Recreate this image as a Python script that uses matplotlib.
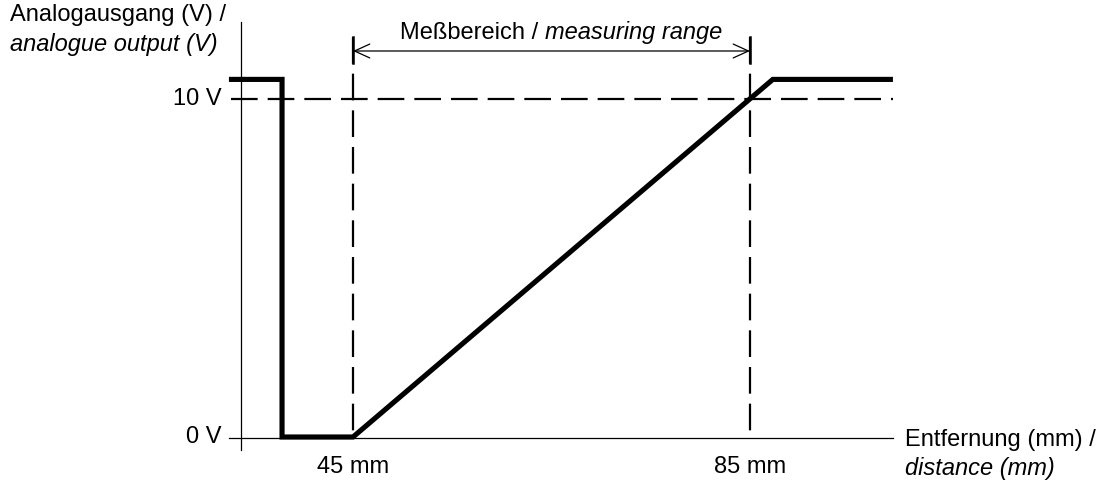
import matplotlib.pyplot as plt

plt.rcParams['font.family'] = ['Liberation Sans', 'DejaVu Sans']

# output curve (distance in mm, output in V)
dist_mm = [32.5, 37.85, 37.85, 45.0, 87.3, 99.4]
out_v = [10.58, 10.58, 0.0, 0.0, 10.58, 10.58]

range_start = 45
range_end = 85
full_scale = 10
tick_labels_x = ['45 mm', '85 mm']
tick_labels_y = ['0 V', '10 V']

W, H = 1103, 484
fig = plt.figure(figsize=(W / 100, H / 100), dpi=100)
ax = fig.add_axes([0, 0, 1, 1])
ax.axis('off')

# pixel <-> data mapping
px_mm = (750 - 353) / (range_end - range_start)
px_v = (437 - 99) / full_scale
x0 = range_start - 353 / px_mm
x1 = range_start + (W - 353) / px_mm
y0 = -(H - 437) / px_v
y1 = 437 / px_v
ax.set_xlim(x0, x1)
ax.set_ylim(y0, y1)

def px2x(p):
    return range_start + (p - 353) / px_mm

def py2y(p):
    return (437 - p) / px_v

# axes
ax.plot([px2x(241), px2x(241)], [py2y(450), py2y(22)], color='black', lw=0.9)
ax.plot([px2x(229), px2x(893)], [py2y(438), py2y(438)], color='black', lw=0.9)

dash = dict(color='black', lw=1.6, dashes=(12, 4.5))
ax.plot([px2x(231), px2x(893)], [full_scale, full_scale], **dash)
for xv in (range_start, range_end):
    ax.plot([xv, xv], [py2y(37), 0], **dash)
    ax.plot([xv, xv], [py2y(37), py2y(63)], color='black', lw=1.8)

# measuring range arrow
ya = py2y(51)
ax.annotate('', xy=(range_start, ya), xytext=(range_end, ya),
            arrowprops=dict(arrowstyle='<->,head_length=1.1,head_width=0.5',
                            color='black', lw=0.9, shrinkA=0, shrinkB=0))
fs = 17
ax.text(px2x(545), py2y(33), 'Meßbereich / ', ha='right',
        va='center', fontsize=fs)
ax.text(px2x(545), py2y(33), 'measuring range', ha='left',
        va='center', fontsize=fs, style='italic')

# curve
ax.plot(dist_mm, out_v, color='black', lw=3.7, solid_joinstyle='miter',
        solid_capstyle='butt')

# labels
ax.text(px2x(222), 0, tick_labels_y[0], ha='right', va='center', fontsize=fs)
ax.text(px2x(222), full_scale, tick_labels_y[1], ha='right', va='center', fontsize=fs)
ax.text(range_start, py2y(467), tick_labels_x[0], ha='center', va='center', fontsize=fs)
ax.text(range_end, py2y(467), tick_labels_x[1], ha='center', va='center', fontsize=fs)

ax.text(px2x(10), py2y(15), 'Analogausgang (V) /', ha='left', va='center', fontsize=fs)
ax.text(px2x(10), py2y(44), 'analogue output (V)', ha='left', va='center',
        fontsize=fs, style='italic')
ax.text(px2x(905), py2y(440), 'Entfernung (mm) /', ha='left', va='center', fontsize=fs)
ax.text(px2x(905), py2y(468), 'distance (mm)', ha='left', va='center',
        fontsize=fs, style='italic')

fig.savefig('out.png', dpi=100)
